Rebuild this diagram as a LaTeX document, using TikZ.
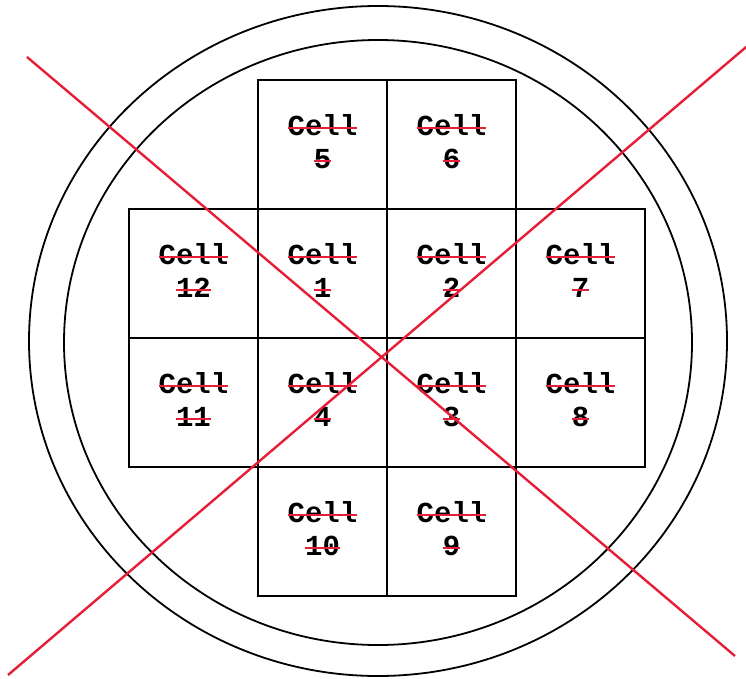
\documentclass[tikz,border=0pt]{standalone}
\usepackage{fontspec}
\setmonofont{Liberation Mono}
\usepackage{tikz}
\usetikzlibrary{positioning,shapes.geometric}
\usepackage{xcolor}
\definecolor{crossred}{RGB}{230,30,55}
\newsavebox{\strikebox}
\newcommand{\redstrike}[1]{\sbox{\strikebox}{#1}\usebox{\strikebox}\llap{\textcolor{crossred}{\rule[0.42ex]{\wd\strikebox}{2pt}}}}

\begin{document}
\begin{tikzpicture}[
  x=1pt, y=-1pt,
  ring/.style={draw=black, line width=1.8pt, ellipse, inner sep=0pt},
  cellbox/.style={draw=black, line width=1.8pt, minimum width=129pt, minimum height=129pt, outer sep=0pt, inner sep=0pt, align=center,
    text depth=6pt, font=\fontsize{29}{33}\selectfont\ttfamily\bfseries},
  cross/.style={draw=crossred, line width=2.4pt}
]
  \useasboundingbox (0,0) rectangle (746,679);
  \node[ring, minimum width=698pt, minimum height=670pt] (outerring) at (378,341) {};
  \node[ring, minimum width=628pt, minimum height=605pt] (innerring) at (378,342.5) {};
  \node[cellbox] (cell1) at (322.5,273.5) {\redstrike{Cell}\\\redstrike{1}};
  \node[cellbox, right=0pt of cell1] (cell2) {\redstrike{Cell}\\\redstrike{2}};
  \node[cellbox, below=0pt of cell2] (cell3) {\redstrike{Cell}\\\redstrike{3}};
  \node[cellbox, below=0pt of cell1] (cell4) {\redstrike{Cell}\\\redstrike{4}};
  \node[cellbox, above=0pt of cell1] (cell5) {\redstrike{Cell}\\\redstrike{5}};
  \node[cellbox, above=0pt of cell2] (cell6) {\redstrike{Cell}\\\redstrike{6}};
  \node[cellbox, right=0pt of cell2] (cell7) {\redstrike{Cell}\\\redstrike{7}};
  \node[cellbox, right=0pt of cell3] (cell8) {\redstrike{Cell}\\\redstrike{8}};
  \node[cellbox, below=0pt of cell3] (cell9) {\redstrike{Cell}\\\redstrike{9}};
  \node[cellbox, below=0pt of cell4] (cell10) {\redstrike{Cell}\\\redstrike{10}};
  \node[cellbox, left=0pt of cell4] (cell11) {\redstrike{Cell}\\\redstrike{11}};
  \node[cellbox, left=0pt of cell1] (cell12) {\redstrike{Cell}\\\redstrike{12}};
  % big cross over the whole plate
  \coordinate (crossnw) at (27,57);
  \coordinate (crossse) at (735,656);
  \coordinate (crossne) at (752,42);
  \coordinate (crosssw) at (8,675);
  \draw[cross] (crossnw) -- (crossse);
  \draw[cross] (crosssw) -- (crossne);
\end{tikzpicture}
\end{document}
